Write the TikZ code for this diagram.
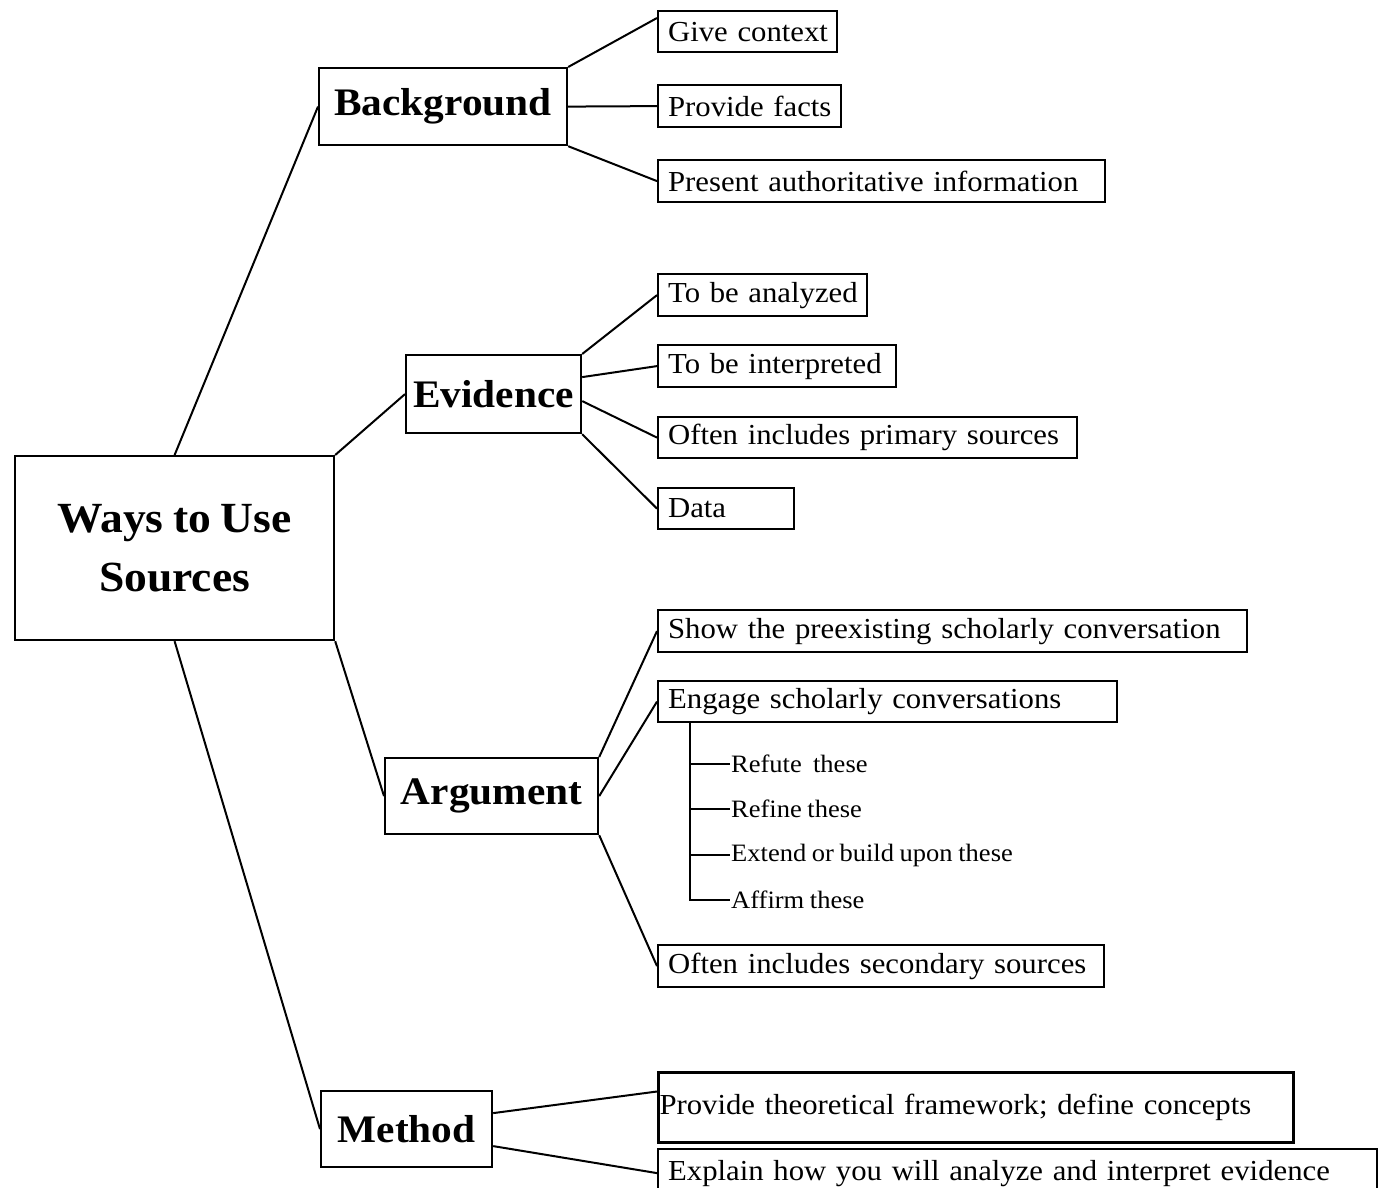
\documentclass[tikz,border=0pt]{standalone}
\usepackage{fontspec}
\setmainfont[FakeStretch=1.06,WordSpace=0.85]{Liberation Serif}
\usetikzlibrary{calc}
\begin{document}
\begin{tikzpicture}[x=1pt,y=-1pt,
  leaf/.style={draw,line width=2.2pt,anchor=north west,inner xsep=10pt,inner ysep=0pt,align=left,font=\fontsize{29}{31}\selectfont},
  branch/.style={draw,line width=2.2pt,anchor=north west,inner sep=0pt,align=center,font=\fontsize{39}{44}\selectfont\bfseries},
  sub/.style={anchor=west,inner sep=1pt,font=\fontsize{25}{27}\selectfont},
  conn/.style={line width=2pt}]
\useasboundingbox[fill=white] (0,0) rectangle (1384,1188);
% root and branches
\node[branch,minimum width=319pt,minimum height=184pt,font=\fontsize{43}{59}\selectfont\bfseries] (root) at (14,455) {Ways to Use\\Sources};
\node[branch,minimum width=248pt,minimum height=77pt] (bg) at (318,67) {Background};
\node[branch,minimum width=175pt,minimum height=78pt] (ev) at (405,354) {Evidence};
\node[branch,minimum width=213pt,minimum height=76pt] (arg) at (384,757) {Argument};
\node[branch,minimum width=171pt,minimum height=76pt] (me) at (320,1090) {Method};
% leaves
\node[leaf,text width=159pt,minimum height=41pt] (give) at (657,10) {\mbox{Give context}};
\node[leaf,text width=163pt,minimum height=42pt] (facts) at (657,84) {\mbox{Provide facts}};
\node[leaf,text width=427pt,minimum height=42pt] (pres) at (657,159) {\mbox{Present authoritative information}};
\node[leaf,text width=189pt,minimum height=42pt] (anal) at (657,273) {\mbox{To be analyzed}};
\node[leaf,text width=218pt,minimum height=42pt] (interp) at (657,344) {\mbox{To be interpreted}};
\node[leaf,text width=399pt,minimum height=41pt] (prim) at (657,416) {\mbox{Often includes primary sources}};
\node[leaf,text width=116pt,minimum height=41pt] (data) at (657,487) {\mbox{Data}};
\node[leaf,text width=569pt,minimum height=42pt] (show) at (657,609) {\mbox{Show the preexisting scholarly conversation}};
\node[leaf,text width=439pt,minimum height=41pt] (eng) at (657,680) {\mbox{Engage scholarly conversations}};
\node[leaf,text width=426pt,minimum height=42pt] (sec) at (657,944) {\mbox{Often includes secondary sources}};
\node[leaf,line width=3pt,inner xsep=1pt,text width=633pt,minimum height=70pt] (theo) at (657,1071) {\mbox{Provide theoretical framework; define concepts}};
\node[leaf,text width=699pt,minimum height=48pt] (expl) at (657,1148) {\mbox{Explain how you will analyze and interpret evidence}};
% sub items
\coordinate (t0) at ([xshift=33pt]eng.south west);
\node[sub] (r1) at (730,764) {Refute\ \ these};
\node[sub] (r2) at (730,809) {Refine these};
\node[sub] (r3) at (730,855) {Extend or build upon these};
\node[sub] (r4) at (730,900) {Affirm these};
\draw[conn] (t0) |- (r4.west);
\draw[conn] (t0 |- r1.west) -- (r1.west);
\draw[conn] (t0 |- r2.west) -- (r2.west);
\draw[conn] (t0 |- r3.west) -- (r3.west);
% connectors root
\draw[conn] (root.north) -- (bg.west);
\draw[conn] (root.north east) -- (ev.west);
\draw[conn] (root.south east) -- (arg.west);
\draw[conn] (root.south) -- (me.west);
% background
\draw[conn] (bg.north east) -- ([yshift=-8pt]give.north west);
\draw[conn] (bg.east) -- (facts.west);
\draw[conn] (bg.south east) -- (pres.west);
% evidence
\draw[conn] (ev.north east) -- (anal.west);
\draw[conn] ([yshift=17pt]ev.east) -- (interp.west);
\draw[conn] ([yshift=-7pt]ev.east) -- (prim.west);
\draw[conn] (ev.south east) -- (data.west);
% argument
\draw[conn] (arg.north east) -- (show.west);
\draw[conn] (arg.east) -- (eng.west);
\draw[conn] (arg.south east) -- (sec.west);
% method
\draw[conn] ([yshift=16pt]me.east) -- ([yshift=16pt]theo.west);
\draw[conn] ([yshift=-17pt]me.east) -- (expl.west);
\end{tikzpicture}
\end{document}
